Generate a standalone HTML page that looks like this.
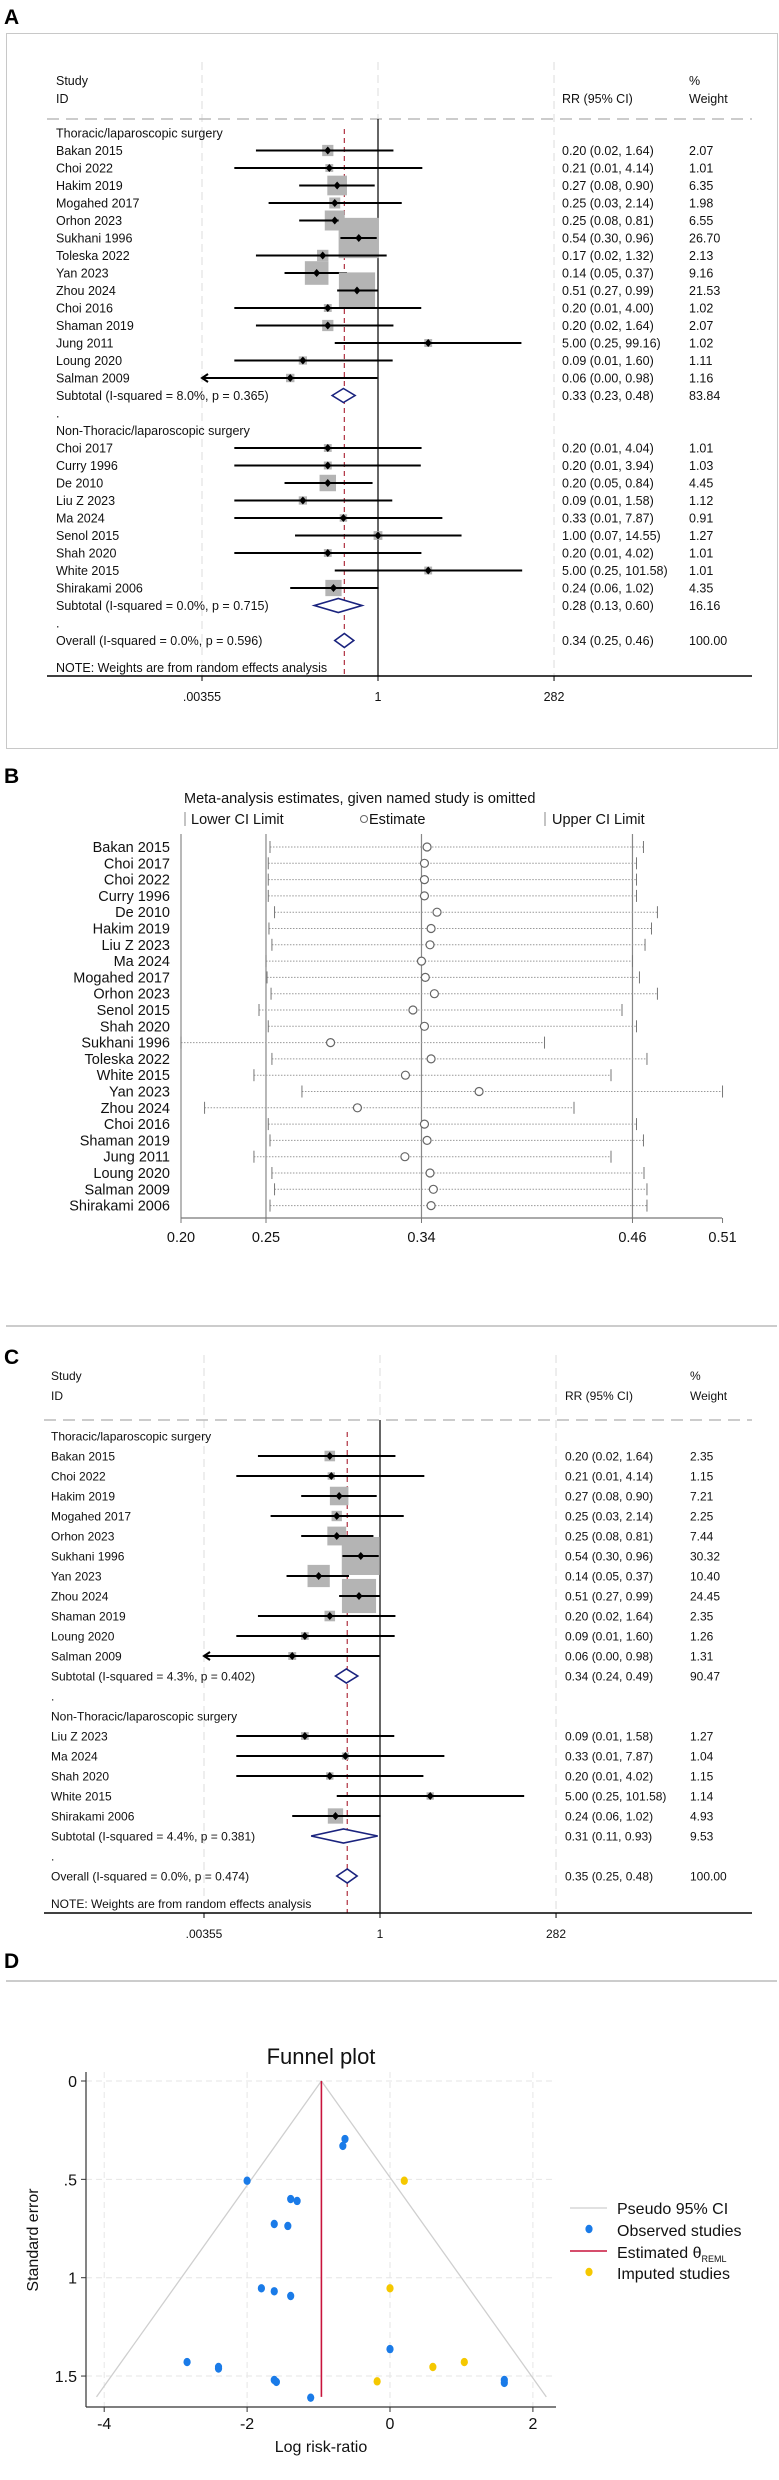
<!DOCTYPE html>
<html><head><meta charset="utf-8"><style>
html,body{margin:0;padding:0;background:#fff}
svg{display:block;font-family:"Liberation Sans",Arial,sans-serif}
</style></head><body>
<svg id="fig" width="779" height="2480" viewBox="0 0 779 2480" xmlns="http://www.w3.org/2000/svg">
<text x="4" y="24" font-size="21" font-weight="bold">A</text>
<rect x="6.5" y="33.5" width="771" height="715" fill="none" stroke="#c8c8c8" stroke-width="1"/>
<text x="4" y="783" font-size="21" font-weight="bold">B</text>
<line x1="6" y1="1326" x2="777" y2="1326" stroke="#bbb" stroke-width="1.5"/>
<text x="4" y="1364" font-size="21" font-weight="bold">C</text>
<text x="4" y="1968" font-size="21" font-weight="bold">D</text>
<line x1="6" y1="1981" x2="777" y2="1981" stroke="#bbb" stroke-width="1.5"/>
</svg>
<script>
// ---------- Panel A data ----------
const aT_names=["Bakan 2015","Choi 2022","Hakim 2019","Mogahed 2017","Orhon 2023","Sukhani 1996","Toleska 2022","Yan 2023","Zhou 2024","Choi 2016","Shaman 2019","Jung 2011","Loung 2020","Salman 2009"];
const aT_rr=[0.20,0.21,0.27,0.25,0.25,0.54,0.17,0.14,0.51,0.20,0.20,5.00,0.09,0.06];
const aT_lo=[0.02,0.01,0.08,0.03,0.08,0.30,0.02,0.05,0.27,0.01,0.02,0.25,0.01,0.00];
const aT_hi=[1.64,4.14,0.90,2.14,0.81,0.96,1.32,0.37,0.99,4.00,1.64,99.16,1.60,0.98];
const aT_w=[2.07,1.01,6.35,1.98,6.55,26.70,2.13,9.16,21.53,1.02,2.07,1.02,1.11,1.16];
const aT_sub=[0.33,0.23,0.48,83.84];
const aN_names=["Choi 2017","Curry 1996","De 2010","Liu Z 2023","Ma 2024","Senol 2015","Shah 2020","White 2015","Shirakami 2006"];
const aN_rr=[0.20,0.20,0.20,0.09,0.33,1.00,0.20,5.00,0.24];
const aN_lo=[0.01,0.01,0.05,0.01,0.01,0.07,0.01,0.25,0.06];
const aN_hi=[4.04,3.94,0.84,1.58,7.87,14.55,4.02,101.58,1.02];
const aN_w=[1.01,1.03,4.45,1.12,0.91,1.27,1.01,1.01,4.35];
const aN_sub=[0.28,0.13,0.60,16.16];
const aOverall=[0.34,0.25,0.46,100.00];
const aHet=["Subtotal  (I-squared = 8.0%, p = 0.365)","Subtotal  (I-squared = 0.0%, p = 0.715)","Overall  (I-squared = 0.0%, p = 0.596)"];
// ---------- Panel C data ----------
const cT_names=["Bakan 2015","Choi 2022","Hakim 2019","Mogahed 2017","Orhon 2023","Sukhani 1996","Yan 2023","Zhou 2024","Shaman 2019","Loung 2020","Salman 2009"];
const cT_rr=[0.20,0.21,0.27,0.25,0.25,0.54,0.14,0.51,0.20,0.09,0.06];
const cT_lo=[0.02,0.01,0.08,0.03,0.08,0.30,0.05,0.27,0.02,0.01,0.00];
const cT_hi=[1.64,4.14,0.90,2.14,0.81,0.96,0.37,0.99,1.64,1.60,0.98];
const cT_w=[2.35,1.15,7.21,2.25,7.44,30.32,10.40,24.45,2.35,1.26,1.31];
const cT_sub=[0.34,0.24,0.49,90.47];
const cN_names=["Liu Z 2023","Ma 2024","Shah 2020","White 2015","Shirakami 2006"];
const cN_rr=[0.09,0.33,0.20,5.00,0.24];
const cN_lo=[0.01,0.01,0.01,0.25,0.06];
const cN_hi=[1.58,7.87,4.02,101.58,1.02];
const cN_w=[1.27,1.04,1.15,1.14,4.93];
const cN_sub=[0.31,0.11,0.93,9.53];
const cOverall=[0.35,0.25,0.48,100.00];
const cHet=["Subtotal  (I-squared = 4.3%, p = 0.402)","Subtotal  (I-squared = 4.4%, p = 0.381)","Overall  (I-squared = 0.0%, p = 0.474)"];
const forestTickVals=[0.00355,1,282];
const forestTickLabels=[".00355","1","282"];
// ---------- Panel B data ----------
const bNames=["Bakan 2015","Choi 2017","Choi 2022","Curry 1996","De 2010","Hakim 2019","Liu Z 2023","Ma 2024","Mogahed 2017","Orhon 2023","Senol 2015","Shah 2020","Sukhani 1996","Toleska 2022","White 2015","Yan 2023","Zhou 2024","Choi 2016","Shaman 2019","Jung 2011","Loung 2020","Salman 2009","Shirakami 2006"];
const bEst=[0.341,0.3395,0.3395,0.3395,0.3467,0.3433,0.3427,0.3378,0.340,0.3452,0.3329,0.3395,0.2857,0.3433,0.3286,0.3708,0.3011,0.3395,0.341,0.3283,0.3427,0.3446,0.3433];
const bLo=[0.251,0.250,0.250,0.250,0.2536,0.2504,0.2521,0.2487,0.2493,0.2516,0.2447,0.250,0.200,0.2521,0.2418,0.2693,0.2135,0.250,0.251,0.2418,0.2521,0.2536,0.2510];
const bHi=[0.465,0.461,0.461,0.461,0.473,0.4696,0.4659,0.4587,0.4627,0.473,0.4527,0.461,0.4083,0.467,0.4464,0.5103,0.4252,0.461,0.465,0.4464,0.4653,0.4670,0.4670];
const bTickVals=[0.20,0.2487,0.3378,0.4587,0.5103];
const bTickLabels=["0.20","0.25","0.34","0.46","0.51"];
// ---------- Panel D data ----------
const dObsX=[-0.63,-0.66,-2.0,-1.39,-1.30,-1.62,-1.43,-1.80,-1.62,-1.39,0.0,-2.84,-2.40,-2.40,-1.62,-1.59,1.60,1.60,-1.11];
const dObsSE=[0.295,0.33,0.507,0.60,0.61,0.727,0.737,1.054,1.069,1.093,1.363,1.429,1.454,1.462,1.52,1.53,1.52,1.535,1.61];
const dImpX=[0.20,0.0,1.04,0.60,-0.18];
const dImpSE=[0.507,1.054,1.429,1.454,1.527];
const dTheta=-0.96;
const dXTicks=[-4,-2,0,2];
const dYTicks=[0,0.5,1,1.5];
const dYTickLabels=["0",".5","1","1.5"];

const NS="http://www.w3.org/2000/svg";
const svg=document.getElementById('fig');
function mk(tag,attrs,parent){const e=document.createElementNS(NS,tag);for(const k in attrs)e.setAttribute(k,attrs[k]);(parent||svg).appendChild(e);return e;}
function txt(x,y,s,size,anchor,parent){const t=mk('text',{x:x,y:y,'font-size':size,'text-anchor':anchor||'start',fill:'#111'},parent);t.textContent=s;return t;}
const f2=v=>v.toFixed(2);

function forest(cfg){
  const g=mk('g',{});
  
  
  const X=v=>cfg.x1+Math.log(Math.max(Math.min(v,282),0.00355))*cfg.k;
  const rowY=i=>cfg.y0+i*cfg.step;
  const fs=cfg.fs, dy=fs*0.36;
  // vertical dashed gridlines
  forestTickVals.forEach(v=>{const l=mk('line',{x1:X(v),x2:X(v),y1:cfg.gTop,y2:cfg.axisY,stroke:'#ddd','stroke-dasharray':'8,5'},g);
    
    });
  // header
  let t=txt(cfg.xStudy,cfg.hY1,"Study",fs,'start',g);
  t=txt(cfg.xStudy,cfg.hY2,"ID",fs,'start',g);
  t=txt(cfg.xRR,cfg.hY2,"RR (95% CI)",fs,'start',g);
  t=txt(cfg.xW,cfg.hY1,"%",fs,'start',g);
  t=txt(cfg.xW,cfg.hY2,"Weight",fs,'start',g);
  let l=mk('line',{x1:cfg.ax0,x2:cfg.ax1,y1:cfg.dashY,y2:cfg.dashY,stroke:'#bbb','stroke-width':1.5,'stroke-dasharray':'12,7'},g);
  
  
  // null line and overall line
  l=mk('line',{x1:X(1),x2:X(1),y1:cfg.dashY,y2:cfg.axisY,stroke:'#000','stroke-width':1.2},g);
  
  
  l=mk('line',{x1:X(cfg.overall[0]),x2:X(cfg.overall[0]),y1:rowY(0)-4,y2:cfg.axisY,stroke:'#b03040','stroke-width':1.2,'stroke-dasharray':'5,4'},g);
  
  
  let r=0;
  function label(s,i,nm){const tt=txt(cfg.xStudy,rowY(i)+dy,s,fs,'start',g);}
  function study(n,rr,lo,hi,w,i){
    const y=rowY(i);
    label(n,i,'study-label');
    const s=cfg.box*Math.sqrt(w);
    const b=mk('rect',{x:X(rr)-s/2,y:y-s/2,width:s,height:s,fill:'#b4b4b4'},g);
    
    
    const clipped=lo<0.00355;
    const ci=mk('line',{x1:X(lo)+(clipped?2:0),x2:X(hi),y1:y,y2:y,stroke:'#000','stroke-width':2},g);
    
    
    if(clipped){const a=mk('path',{d:`M${X(lo)+6},${y-4} L${X(lo)},${y} L${X(lo)+6},${y+4}`,fill:'none',stroke:'#000','stroke-width':2},g);
      
      }
    const px=X(rr);
    const d=mk('path',{d:`M${px},${y-4} L${px+3.5},${y} L${px},${y+4} L${px-3.5},${y} Z`,fill:'#000'},g);
    
    
    let tt=txt(cfg.xRR,y+dy,`${f2(rr)} (${f2(lo)}, ${f2(hi)})`,fs,'start',g);
    
    
    tt=txt(cfg.xW,y+dy,f2(w),fs,'start',g);
    
    
  }
  function diamond(v,i,txtS,nm){
    const y=rowY(i);
    label(txtS,i,nm+'-label');
    const p=mk('path',{d:`M${X(v[1])},${y} L${X(v[0])},${y-7} L${X(v[2])},${y} L${X(v[0])},${y+7} Z`,fill:'#fff',stroke:'#1a237e','stroke-width':1.6},g);
    
    
    let tt=txt(cfg.xRR,y+dy,`${f2(v[0])} (${f2(v[1])}, ${f2(v[2])})`,fs,'start',g);
    
    
    tt=txt(cfg.xW,y+dy,f2(v[3]),fs,'start',g);
    
    
  }
  label("Thoracic/laparoscopic surgery",r++,'subgroup-label');
  cfg.T.names.forEach((n,j)=>study(n,cfg.T.rr[j],cfg.T.lo[j],cfg.T.hi[j],cfg.T.w[j],r++));
  diamond(cfg.T.sub,r++,cfg.het[0],'subtotal');
  label(".",r++,'spacer');
  label("Non-Thoracic/laparoscopic surgery",r++,'subgroup-label');
  cfg.N.names.forEach((n,j)=>study(n,cfg.N.rr[j],cfg.N.lo[j],cfg.N.hi[j],cfg.N.w[j],r++));
  diamond(cfg.N.sub,r++,cfg.het[1],'subtotal');
  label(".",r++,'spacer');
  diamond(cfg.overall,r++,cfg.het[2],'overall');
  t=txt(cfg.xStudy,cfg.noteY,"NOTE: Weights are from random effects analysis",fs,'start',g);
  
  
  l=mk('line',{x1:cfg.ax0,x2:cfg.ax1,y1:cfg.axisY,y2:cfg.axisY,stroke:'#000','stroke-width':1.4},g);
  
  
  forestTickVals.forEach((v,j)=>{
    const tk=mk('line',{x1:X(v),x2:X(v),y1:cfg.axisY,y2:cfg.axisY+5,stroke:'#000'},g);
    
    
    const tl=txt(X(v),cfg.axisY+25,forestTickLabels[j],fs,'middle',g);
    
    
  });
}
forest({name:'forest-plot-a',x1:378,k:31.2,y0:133,step:17.5,fs:12.5,box:7.8,xStudy:56,xRR:562,xW:689,hY1:85,hY2:103,dashY:119,gTop:62,axisY:676,noteY:672,ax0:47,ax1:752,
  T:{names:aT_names,rr:aT_rr,lo:aT_lo,hi:aT_hi,w:aT_w,sub:aT_sub},N:{names:aN_names,rr:aN_rr,lo:aN_lo,hi:aN_hi,w:aN_w,sub:aN_sub},overall:aOverall,het:aHet});
forest({name:'forest-plot-c',x1:380,k:31.2,y0:1436,step:20,fs:12,box:6.9,xStudy:51,xRR:565,xW:690,hY1:1380,hY2:1400,dashY:1420,gTop:1355,axisY:1913,noteY:1908,ax0:44,ax1:752,
  T:{names:cT_names,rr:cT_rr,lo:cT_lo,hi:cT_hi,w:cT_w,sub:cT_sub},N:{names:cN_names,rr:cN_rr,lo:cN_lo,hi:cN_hi,w:cN_w,sub:cN_sub},overall:cOverall,het:cHet});

// ---------- Panel B ----------
(function(){
  const g=mk('g',{});
  
  
  const X=v=>181+(v-0.20)/0.31*541;
  const rowY=i=>847+i*16.3;
  let t=txt(184,803,"Meta-analysis estimates, given named study is omitted",14.5,'start',g);
  
  
  let l=mk('line',{x1:185,x2:185,y1:812,y2:826,stroke:'#888'},g);
  
  
  t=txt(191,824,"Lower CI Limit",14.5,'start',g);
  
  
  let c=mk('circle',{cx:364,cy:819,r:3.5,fill:'none',stroke:'#666'},g);
  
  
  t=txt(369,824,"Estimate",14.5,'start',g);
  
  
  l=mk('line',{x1:545,x2:545,y1:812,y2:826,stroke:'#888'},g);
  
  
  t=txt(552,824,"Upper CI Limit",14.5,'start',g);
  
  
  bTickVals.slice(0,4).forEach(v=>{const vl=mk('line',{x1:X(v),x2:X(v),y1:834,y2:1218,stroke:'#888','stroke-width':1.2},g);
    
    });
  bNames.forEach((n,i)=>{
    const y=rowY(i);
    const tt=txt(170,y+5,n,14.5,'end',g);
    
    
    const dl=mk('line',{x1:X(bLo[i]),x2:X(bHi[i]),y1:y,y2:y,stroke:'#999','stroke-dasharray':'1.5,1.5'},g);
    
    
    const lo=mk('line',{x1:X(bLo[i]),x2:X(bLo[i]),y1:y-6,y2:y+6,stroke:'#777'},g);
    
    
    const hi=mk('line',{x1:X(bHi[i]),x2:X(bHi[i]),y1:y-6,y2:y+6,stroke:'#777'},g);
    
    
    const ec=mk('circle',{cx:X(bEst[i]),cy:y,r:4,fill:'#fff',stroke:'#666','stroke-width':1.2},g);
    
    
  });
  l=mk('line',{x1:X(0.20),x2:X(0.51),y1:1218,y2:1218,stroke:'#777','stroke-width':1.2},g);
  
  
  bTickVals.forEach((v,j)=>{
    const tk=mk('line',{x1:X(v),x2:X(v),y1:1218,y2:1223,stroke:'#777'},g);
    
    
    const tl=txt(X(v),1242,bTickLabels[j],14.5,'middle',g);
    
    
  });
})();

// ---------- Panel D ----------
(function(){
  const g=mk('g',{});
  
  
  const X=v=>390+v*71.45;
  const Y=s=>2081+s*196.7;
  let t=txt(321,2064,"Funnel plot",22,'middle',g);
  
  
  dXTicks.forEach(v=>{const gl=mk('line',{x1:X(v),x2:X(v),y1:2072,y2:2407,stroke:'#e6e6e6','stroke-dasharray':'6,4'},g);
    
    });
  dYTicks.forEach(v=>{const gl=mk('line',{x1:86,x2:556,y1:Y(v),y2:Y(v),stroke:'#e6e6e6','stroke-dasharray':'6,4'},g);
    
    });
  const seMax=1.606;
  let p=mk('path',{d:`M${X(dTheta-1.96*seMax)},${Y(seMax)} L${X(dTheta)},${Y(0)} L${X(dTheta+1.96*seMax)},${Y(seMax)}`,fill:'none',stroke:'#cfcfcf','stroke-width':1.3},g);
  
  
  let l=mk('line',{x1:X(dTheta),x2:X(dTheta),y1:Y(0),y2:Y(seMax),stroke:'#c8143c','stroke-width':1.6},g);
  
  
  dObsX.forEach((v,i)=>{const c=mk('ellipse',{cx:X(v),cy:Y(dObsSE[i]),rx:3.6,ry:4.2,fill:'#1a7be8'},g);
    
    });
  dImpX.forEach((v,i)=>{const c=mk('ellipse',{cx:X(v),cy:Y(dImpSE[i]),rx:3.6,ry:4.2,fill:'#f5c800'},g);
    
    });
  l=mk('line',{x1:86,x2:86,y1:2072,y2:2407,stroke:'#333','stroke-width':1.2},g);
  
  
  l=mk('line',{x1:86,x2:556,y1:2407,y2:2407,stroke:'#333','stroke-width':1.2},g);
  
  
  dXTicks.forEach(v=>{
    const tk=mk('line',{x1:X(v),x2:X(v),y1:2407,y2:2412,stroke:'#333'},g);
    
    
    const tl=txt(X(v),2429,String(v),16,'middle',g);
    
    
  });
  dYTicks.forEach((v,j)=>{
    const tk=mk('line',{x1:81,x2:86,y1:Y(v),y2:Y(v),stroke:'#333'},g);
    
    
    const tl=txt(77,Y(v)+6,dYTickLabels[j],16,'end',g);
    
    
  });
  t=txt(321,2452,"Log risk-ratio",16,'middle',g);
  
  
  t=txt(0,0,"Standard error",16,'middle',g);
  t.setAttribute('transform','translate(38,2240) rotate(-90)');
  
  
  // legend
  l=mk('line',{x1:570,x2:607,y1:2208,y2:2208,stroke:'#cfcfcf','stroke-width':1.3},g);
  
  
  t=txt(617,2214,"Pseudo 95% CI",16,'start',g);
  
  
  let c=mk('ellipse',{cx:589,cy:2229,rx:3.6,ry:4.2,fill:'#1a7be8'},g);
  
  
  t=txt(617,2236,"Observed studies",16,'start',g);
  
  
  l=mk('line',{x1:570,x2:607,y1:2251,y2:2251,stroke:'#c8143c','stroke-width':1.6},g);
  
  
  t=mk('text',{x:617,y:2258,'font-size':16,fill:'#111'},g);
  t.innerHTML='Estimated θ<tspan font-size="9" dy="4">REML</tspan>';
  
  
  c=mk('ellipse',{cx:589,cy:2272,rx:3.6,ry:4.2,fill:'#f5c800'},g);
  
  
  t=txt(617,2279,"Imputed studies",16,'start',g);
  
  
})();
</script>
</body></html>
